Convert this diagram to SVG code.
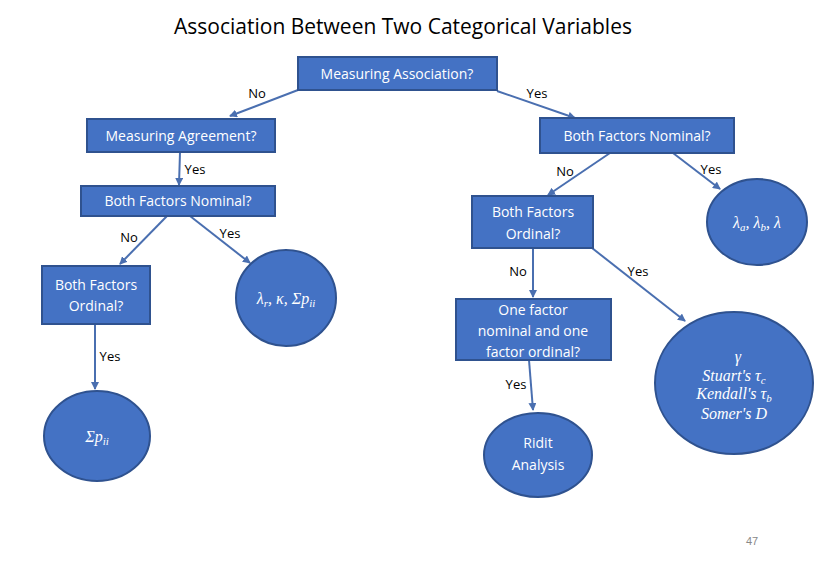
<svg xmlns="http://www.w3.org/2000/svg" width="822" height="567" viewBox="0 0 822 567">
<style>
.n{fill:#4472C4;stroke:#2F528F;stroke-width:2}
.t{fill:#fff;font-family:"Open Sans","Liberation Sans",sans-serif;font-size:14px;text-anchor:middle}
.m{fill:#fff;font-family:"Liberation Serif",serif;font-style:italic;font-size:16px;text-anchor:middle}
.l{fill:#000;font-family:"Open Sans","Liberation Sans",sans-serif;font-size:13px;text-anchor:middle}
.c{stroke:#4A6FB0;stroke-width:2;fill:none;marker-end:url(#a)}
</style>
<defs><marker id="a" markerWidth="8" markerHeight="8" refX="7" refY="4" orient="auto" markerUnits="userSpaceOnUse"><path d="M0,0 L8,4 L0,8 z" fill="#4A6FB0"/></marker></defs>
<rect width="822" height="567" fill="#fff"/>
<text x="403" y="34" font-family="'Open Sans','Liberation Sans',sans-serif" font-size="21" text-anchor="middle">Association Between Two Categorical Variables</text>
<g id="connectors">
<path class="c" d="M298,90 L230,116"/>
<path class="c" d="M497,91 L575,118"/>
<path class="c" d="M180,152 L179,185"/>
<path class="c" d="M167,216 L120,264"/>
<path class="c" d="M190,216 L250,263"/>
<path class="c" d="M95,324 L95,389"/>
<path class="c" d="M610,153 L548,195"/>
<path class="c" d="M673,153 L720,189"/>
<path class="c" d="M533,248 L533,297"/>
<path class="c" d="M592,248 L685,321"/>
<path class="c" d="M529,360 L533,410"/>
</g>
<g id="labels">
<text class="l" x="257" y="98">No</text>
<text class="l" x="537" y="98">Yes</text>
<text class="l" x="195" y="174">Yes</text>
<text class="l" x="129" y="242">No</text>
<text class="l" x="230" y="238">Yes</text>
<text class="l" x="110" y="361">Yes</text>
<text class="l" x="565" y="176">No</text>
<text class="l" x="711" y="174">Yes</text>
<text class="l" x="518" y="276">No</text>
<text class="l" x="638" y="276">Yes</text>
<text class="l" x="516" y="389">Yes</text>
</g>
<g id="measuring-association"><rect class="n" x="298" y="57" width="199" height="33"/><text class="t" x="397" y="79">Measuring Association?</text></g>
<g id="measuring-agreement"><rect class="n" x="87" y="119" width="188" height="33"/><text class="t" x="181" y="141">Measuring Agreement?</text></g>
<g id="left-nominal"><rect class="n" x="81" y="186" width="194" height="30"/><text class="t" x="178" y="206">Both Factors Nominal?</text></g>
<g id="left-ordinal"><rect class="n" x="42" y="266" width="108" height="58"/><text class="t" x="96" y="290">Both Factors</text><text class="t" x="96" y="311">Ordinal?</text></g>
<g id="left-nominal-yes"><ellipse class="n" cx="286" cy="298" rx="50" ry="48"/><text class="m" x="286" y="304">λ<tspan font-size="11" dy="3">r</tspan><tspan dy="-3">, κ, Σp</tspan><tspan font-size="11" dy="3">ii</tspan></text></g>
<g id="left-ordinal-yes"><ellipse class="n" cx="97" cy="436" rx="53" ry="45"/><text class="m" x="97" y="442">Σp<tspan font-size="11" dy="3">ii</tspan></text></g>
<g id="right-nominal"><rect class="n" x="540" y="118" width="194" height="35"/><text class="t" x="637" y="141">Both Factors Nominal?</text></g>
<g id="right-nominal-yes"><ellipse class="n" cx="757" cy="222" rx="50" ry="43"/><text class="m" x="757" y="228">λ<tspan font-size="11" dy="3">a</tspan><tspan dy="-3">, λ</tspan><tspan font-size="11" dy="3">b</tspan><tspan dy="-3">, λ</tspan></text></g>
<g id="right-ordinal"><rect class="n" x="472" y="196" width="121" height="52"/><text class="t" x="533" y="217">Both Factors</text><text class="t" x="533" y="239">Ordinal?</text></g>
<g id="right-ordinal-yes"><ellipse class="n" cx="734" cy="383" rx="79" ry="71"/>
<text class="m" x="738" y="362" font-style="normal">γ</text>
<text class="m" x="734" y="381">Stuart's τ<tspan font-size="11" dy="3">c</tspan></text>
<text class="m" x="734" y="399">Kendall's τ<tspan font-size="11" dy="3">b</tspan></text>
<text class="m" x="734" y="419">Somer's D</text></g>
<g id="one-factor"><rect class="n" x="456" y="299" width="155" height="61"/><text class="t" x="533" y="315">One factor</text><text class="t" x="533" y="336">nominal and one</text><text class="t" x="533" y="357">factor ordinal?</text></g>
<g id="ridit"><ellipse class="n" cx="538" cy="455" rx="54" ry="42"/><text class="t" x="538" y="448">Ridit</text><text class="t" x="538" y="470">Analysis</text></g>
<text x="752" y="545" font-family="'Liberation Sans',sans-serif" font-size="11" fill="#888" text-anchor="middle">47</text>
</svg>
